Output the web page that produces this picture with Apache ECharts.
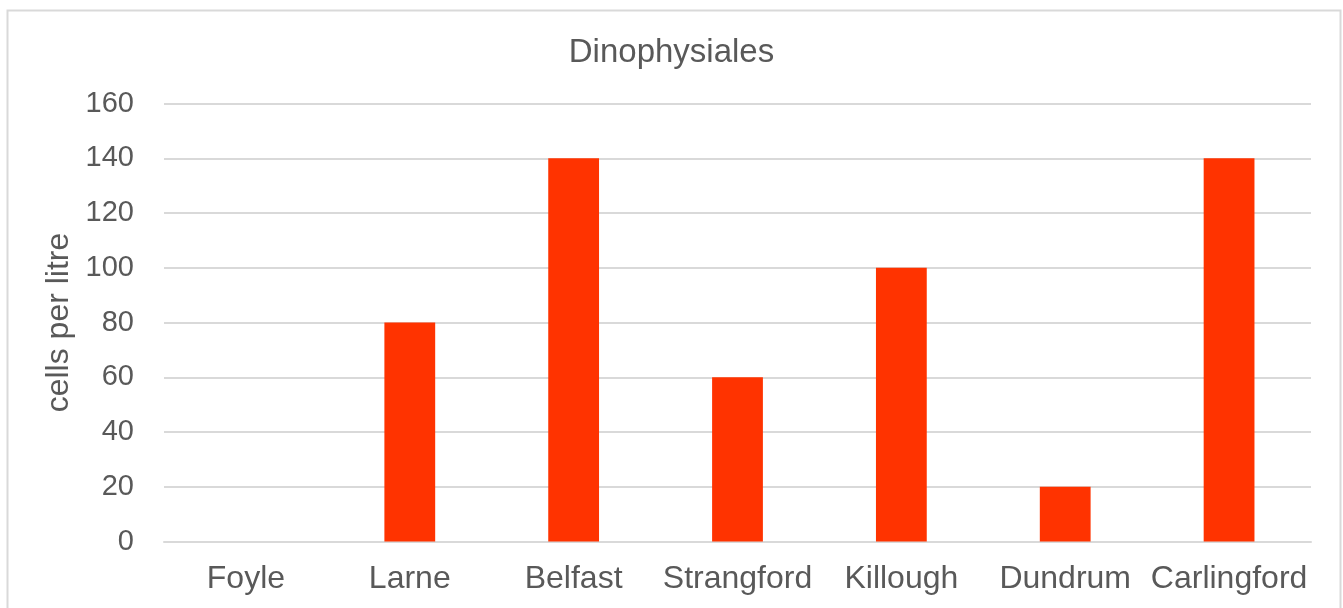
<!DOCTYPE html>
<html>
<head>
<meta charset="utf-8">
<script src="https://cdn.jsdelivr.net/npm/echarts@6/dist/echarts.min.js"></script>
<style>
  html, body { margin: 0; padding: 0; background: #fff; }
  #chart { width: 1343px; height: 608px; }
</style>
</head>
<body>
<div id="chart"></div>
<script>
// Dinophysiales counts by site
const sites = ['Foyle', 'Larne', 'Belfast', 'Strangford', 'Killough', 'Dundrum', 'Carlingford'];
const cellsPerLitre = [0, 80, 140, 60, 100, 20, 140];
const yTicks = [0, 20, 40, 60, 80, 100, 120, 140, 160];

const textColor = '#595959';
const fontFamily = '"Liberation Sans", Arial, sans-serif';

const chart = echarts.init(document.getElementById('chart'), null, { renderer: 'canvas' });
chart.setOption({
  animation: false,
  backgroundColor: '#fff',
  graphic: [{
    type: 'rect',
    shape: { x: 7.5, y: 10.5, width: 1333, height: 640 },
    style: { fill: 'none', stroke: '#d9d9d9', lineWidth: 2 },
    silent: true
  }],
  title: {
    text: 'Dinophysiales',
    left: 'center',
    top: 31,
    textStyle: { color: textColor, fontFamily, fontSize: 33, fontWeight: 'normal' }
  },
  grid: { left: 164, right: 32, top: 103.5, bottom: 66.5 },
  xAxis: {
    type: 'category',
    data: sites,
    axisLine: { show: true, lineStyle: { color: '#d9d9d9', width: 2 } },
    axisTick: { show: false },
    axisLabel: { color: textColor, fontFamily, fontSize: 32, margin: 22, interval: 0 }
  },
  yAxis: {
    type: 'value',
    min: yTicks[0],
    max: yTicks[yTicks.length - 1],
    interval: 20,
    name: 'cells per litre',
    nameLocation: 'middle',
    nameGap: 88,
    nameTextStyle: { color: textColor, fontFamily, fontSize: 32 },
    axisLine: { show: false },
    axisTick: { show: false },
    axisLabel: { color: textColor, fontFamily, fontSize: 29, margin: 30 },
    splitLine: { lineStyle: { color: '#d9d9d9', width: 2 } }
  },
  series: [{
    type: 'bar',
    data: cellsPerLitre,
    barWidth: '31%',
    itemStyle: { color: '#ff3300' }
  }]
});
</script>
</body>
</html>
